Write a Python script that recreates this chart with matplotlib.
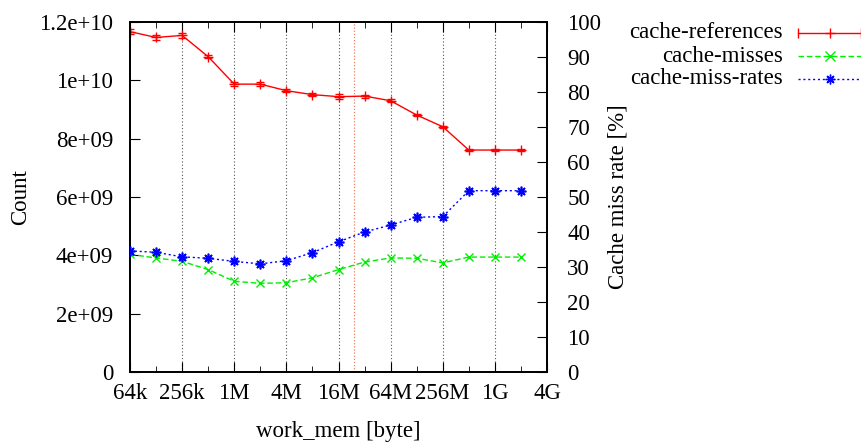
import matplotlib
matplotlib.use("Agg")
from matplotlib import pyplot as plt
from matplotlib.lines import Line2D
from matplotlib.ticker import FixedLocator, NullFormatter

plt.rcParams['font.family'] = ['Liberation Serif', 'DejaVu Serif']
plt.rcParams['font.size'] = 16.5

# work_mem sizes in bytes (64k .. 2G)
work_mem = [65536, 131072, 262144, 524288, 1048576, 2097152, 4194304, 8388608,
            16777216, 33554432, 67108864, 134217728, 268435456, 536870912,
            1073741824, 2147483648]

cache_references = [11.67e9, 11.47e9, 11.54e9, 10.81e9, 9.87e9, 9.87e9, 9.645e9, 9.51e9,
                    9.44e9, 9.46e9, 9.30e9, 8.81e9, 8.41e9, 7.61e9, 7.61e9, 7.61e9]
cache_references_err = [0.8e8, 0.9e8, 0.95e8, 0.5e8, 0.8e8, 0.7e8, 0.6e8, 0.5e8,
                        0.9e8, 0.5e8, 0.5e8, 0.4e8, 0.4e8, 0.4e8, 0.4e8, 0.4e8]
cache_misses = [4.035e9, 3.91e9, 3.795e9, 3.51e9, 3.11e9, 3.04e9, 3.06e9, 3.23e9,
                3.51e9, 3.77e9, 3.91e9, 3.90e9, 3.74e9, 3.94e9, 3.94e9, 3.94e9]
cache_miss_rates = [34.6, 34.2, 32.9, 32.5, 31.6, 30.9, 31.8, 34.1,
                    37.2, 40.0, 42.0, 44.2, 44.4, 51.8, 51.8, 51.8]

x_ticks = [2**16, 2**18, 2**20, 2**22, 2**24, 2**26, 2**28, 2**30, 2**32]
x_tick_labels = ['64k', '256k', '1M', '4M', '16M', '64M', '256M', '1G', '4G']
x_minor = [2**17, 2**19, 2**21, 2**23, 2**25, 2**27, 2**29, 2**31]
y_ticks = [0, 2e9, 4e9, 6e9, 8e9, 1e10, 1.2e10]
y_tick_labels = ['0', '2e+09', '4e+09', '6e+09', '8e+09', '1e+10', '1.2e+10']
y2_ticks = [0, 10, 20, 30, 40, 50, 60, 70, 80, 90, 100]
l3_cache = 25165824  # 24M

red = '#ff0000'
green = '#00ee00'
blue = '#0000ff'

fig = plt.figure(figsize=(8.62, 4.42), dpi=100)
ax = fig.add_axes([130 / 862, 1 - 372 / 442, 417 / 862, 350 / 442])
ax2 = ax.twinx()

ax.set_xscale('log', base=2)
ax.set_xlim(2**16, 2**32)
ax.set_ylim(0, 1.2e10)
ax2.set_ylim(0, 100)

for xv in x_ticks[1:-1]:
    ax.axvline(xv, color='#555555', lw=0.8, ls=(0, (1, 2)), zorder=0)
ax.axvline(l3_cache, color='#f08060', lw=0.9, ls=(0, (1, 1.5)), zorder=0)

ax.errorbar(work_mem, cache_references, yerr=cache_references_err, color=red, lw=1,
            marker='+', ms=7, mew=1, capsize=3, elinewidth=1, zorder=3)
ax.plot(work_mem, cache_misses, color=green, lw=1, ls=(0, (4, 2)),
        marker='x', ms=6, mew=1, zorder=3)
ax2.plot(work_mem, cache_miss_rates, color=blue, lw=1, ls=(0, (1.5, 2)),
         marker=(8, 2, 0), ms=7, mew=1.2, zorder=3)

ax.xaxis.set_major_locator(FixedLocator(x_ticks))
ax.set_xticklabels(x_tick_labels)
ax.xaxis.set_minor_locator(FixedLocator(x_minor))
ax.xaxis.set_minor_formatter(NullFormatter())
ax.set_yticks(y_ticks)
ax.set_yticklabels(y_tick_labels)
ax.yaxis.set_minor_locator(FixedLocator([]))
ax2.set_yticks(y2_ticks)
ax2.yaxis.set_minor_locator(FixedLocator([]))

ax.tick_params(axis='x', which='both', direction='in', top=True, pad=8)
ax.tick_params(axis='x', which='major', length=7)
ax.tick_params(axis='x', which='minor', length=4)
ax.tick_params(axis='y', direction='in', length=7, pad=12, right=False)
ax2.tick_params(axis='y', direction='in', length=7, pad=14.5)

for a in (ax, ax2):
    for s in a.spines.values():
        s.set_linewidth(1.3)

ax.set_xlabel('work_mem [byte]')
ax.xaxis.set_label_coords(0.5, -0.14)
ax.set_ylabel('Count')
ax.yaxis.set_label_coords(-0.238, 0.5)
ax2.set_ylabel('Cache miss rate [%]')
ax2.yaxis.set_label_coords(1.145, 0.5)

# key outside the plot, text right-aligned with the sample to its right
rows = [('cache-references', red, '-', '+'),
        ('cache-misses', green, (0, (4, 2)), 'x'),
        ('cache-miss-rates', blue, (0, (1.5, 2)), (8, 2, 0))]
for i, (label, col, ls, mk) in enumerate(rows):
    y = 1 - (33 + 23 * i) / 442
    fig.text(783 / 862, y, label, ha='right', va='center')
    fig.add_artist(Line2D([798 / 862, 862 / 862], [y, y], color=col, lw=1, ls=ls,
                          transform=fig.transFigure))
    fig.add_artist(Line2D([830 / 862], [y], color=col, marker=mk, ms=7, mew=1,
                          transform=fig.transFigure))
    if i == 0:
        fig.add_artist(Line2D([798 / 862, 861 / 862], [y, y], color=col, ls='none',
                              marker='|', ms=7, mew=1, transform=fig.transFigure))

fig.savefig('out.png', dpi=100)
